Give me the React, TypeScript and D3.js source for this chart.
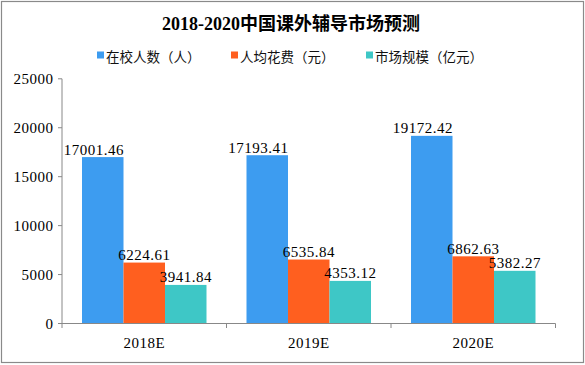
import React from "react";
import * as d3 from "d3";

const categories = ["2018E", "2019E", "2020E"];
const seriesNames = ["在校人数（人）", "人均花费（元）", "市场规模（亿元）"];
const students = [17001.46, 17193.41, 19172.42];
const spending = [6224.61, 6535.84, 6862.63];
const marketSize = [3941.84, 4353.12, 5382.27];
const yTicks = [0, 5000, 10000, 15000, 20000, 25000];
const colors = ["#3D9CF0", "#FF5F1F", "#3EC7C6"];
const title = "2018-2020中国课外辅导市场预测";

const W = 585;
const H = 365;

export default function App() {
  const series = [students, spending, marketSize];
  const y = d3.scaleLinear().domain([0, 25000]).range([323.5, 78.8]);
  const x = d3.scaleBand<string>().domain(categories).range([62, 555.5]).paddingInner(0).paddingOuter(0);
  const bw = x.bandwidth();
  const xs = d3.scaleBand<number>().domain([0, 1, 2]).range([20, bw - 20]).padding(0);
  const numFont = "'Liberation Serif', serif";
  const numStyle = { letterSpacing: "0.5px" };
  const cjkFont = "'Noto Sans CJK SC', sans-serif";
  const legendX = [97, 231, 366];
  const boundaries = [...categories.map((c) => x(c) as number), 555.5];

  return (
    <div style={{ position: "absolute", left: 0, top: 0 }}>
      <svg width={W} height={H} style={{ display: "block", background: "#fff" }}>
        <rect x={1.5} y={1.5} width={582} height={361} fill="#fff" stroke="#8a8a8a" strokeWidth={1.2} />
        <text x={291} y={30} textAnchor="middle" fontFamily={"'Liberation Serif', 'Noto Sans CJK SC', serif"} fontWeight="bold" fontSize={18} fill="#000">
          {title}
        </text>
        {seriesNames.map((n, i) => (
          <g key={n}>
            <rect x={legendX[i]} y={51.5} width={7} height={7} fill={colors[i]} />
            <text x={legendX[i] + 9} y={56} dominantBaseline="central" fontFamily={cjkFont} fontSize={13.5} fill="#111">
              {n}
            </text>
          </g>
        ))}
        {categories.map((c, ci) => (
          <g key={c} transform={`translate(${x(c)},0)`}>
            {series.map((s, si) => (
              <rect key={si} x={xs(si) as number} y={y(s[ci])} width={xs.bandwidth()} height={y(0) - y(s[ci])} fill={colors[si]} />
            ))}
          </g>
        ))}
        <line x1={62} x2={62} y1={y(25000)} y2={y(0)} stroke="#888" strokeWidth={1} />
        {yTicks.map((t) => (
          <g key={t}>
            <line x1={58} x2={62} y1={y(t)} y2={y(t)} stroke="#888" />
            <text x={53.5} y={y(t) + 5} textAnchor="end" fontFamily={numFont} fontSize={15} fill="#000" style={numStyle}>
              {t}
            </text>
          </g>
        ))}
        <line x1={62} x2={555.5} y1={y(0)} y2={y(0)} stroke="#888" strokeWidth={1} />
        {boundaries.map((b, i) => (
          <line key={i} x1={b} x2={b} y1={y(0)} y2={y(0) + 4.5} stroke="#888" />
        ))}
        {categories.map((c) => (
          <text key={c} x={(x(c) as number) + bw / 2} y={347.5} textAnchor="middle" fontFamily={numFont} fontSize={15} fill="#000" style={numStyle}>
            {c}
          </text>
        ))}
        {categories.map((c, ci) =>
          series.map((s, si) => (
            <text
              key={c + si}
              x={(x(c) as number) + (xs(si) as number) + xs.bandwidth() / 2 + (si === 0 ? -9 : 0)}
              y={y(s[ci]) - 2.5}
              textAnchor="middle"
              fontFamily={numFont}
              fontSize={15}
              fill="#000"
              style={numStyle}
            >
              {s[ci].toFixed(2)}
            </text>
          ))
        )}
      </svg>
    </div>
  );
}
